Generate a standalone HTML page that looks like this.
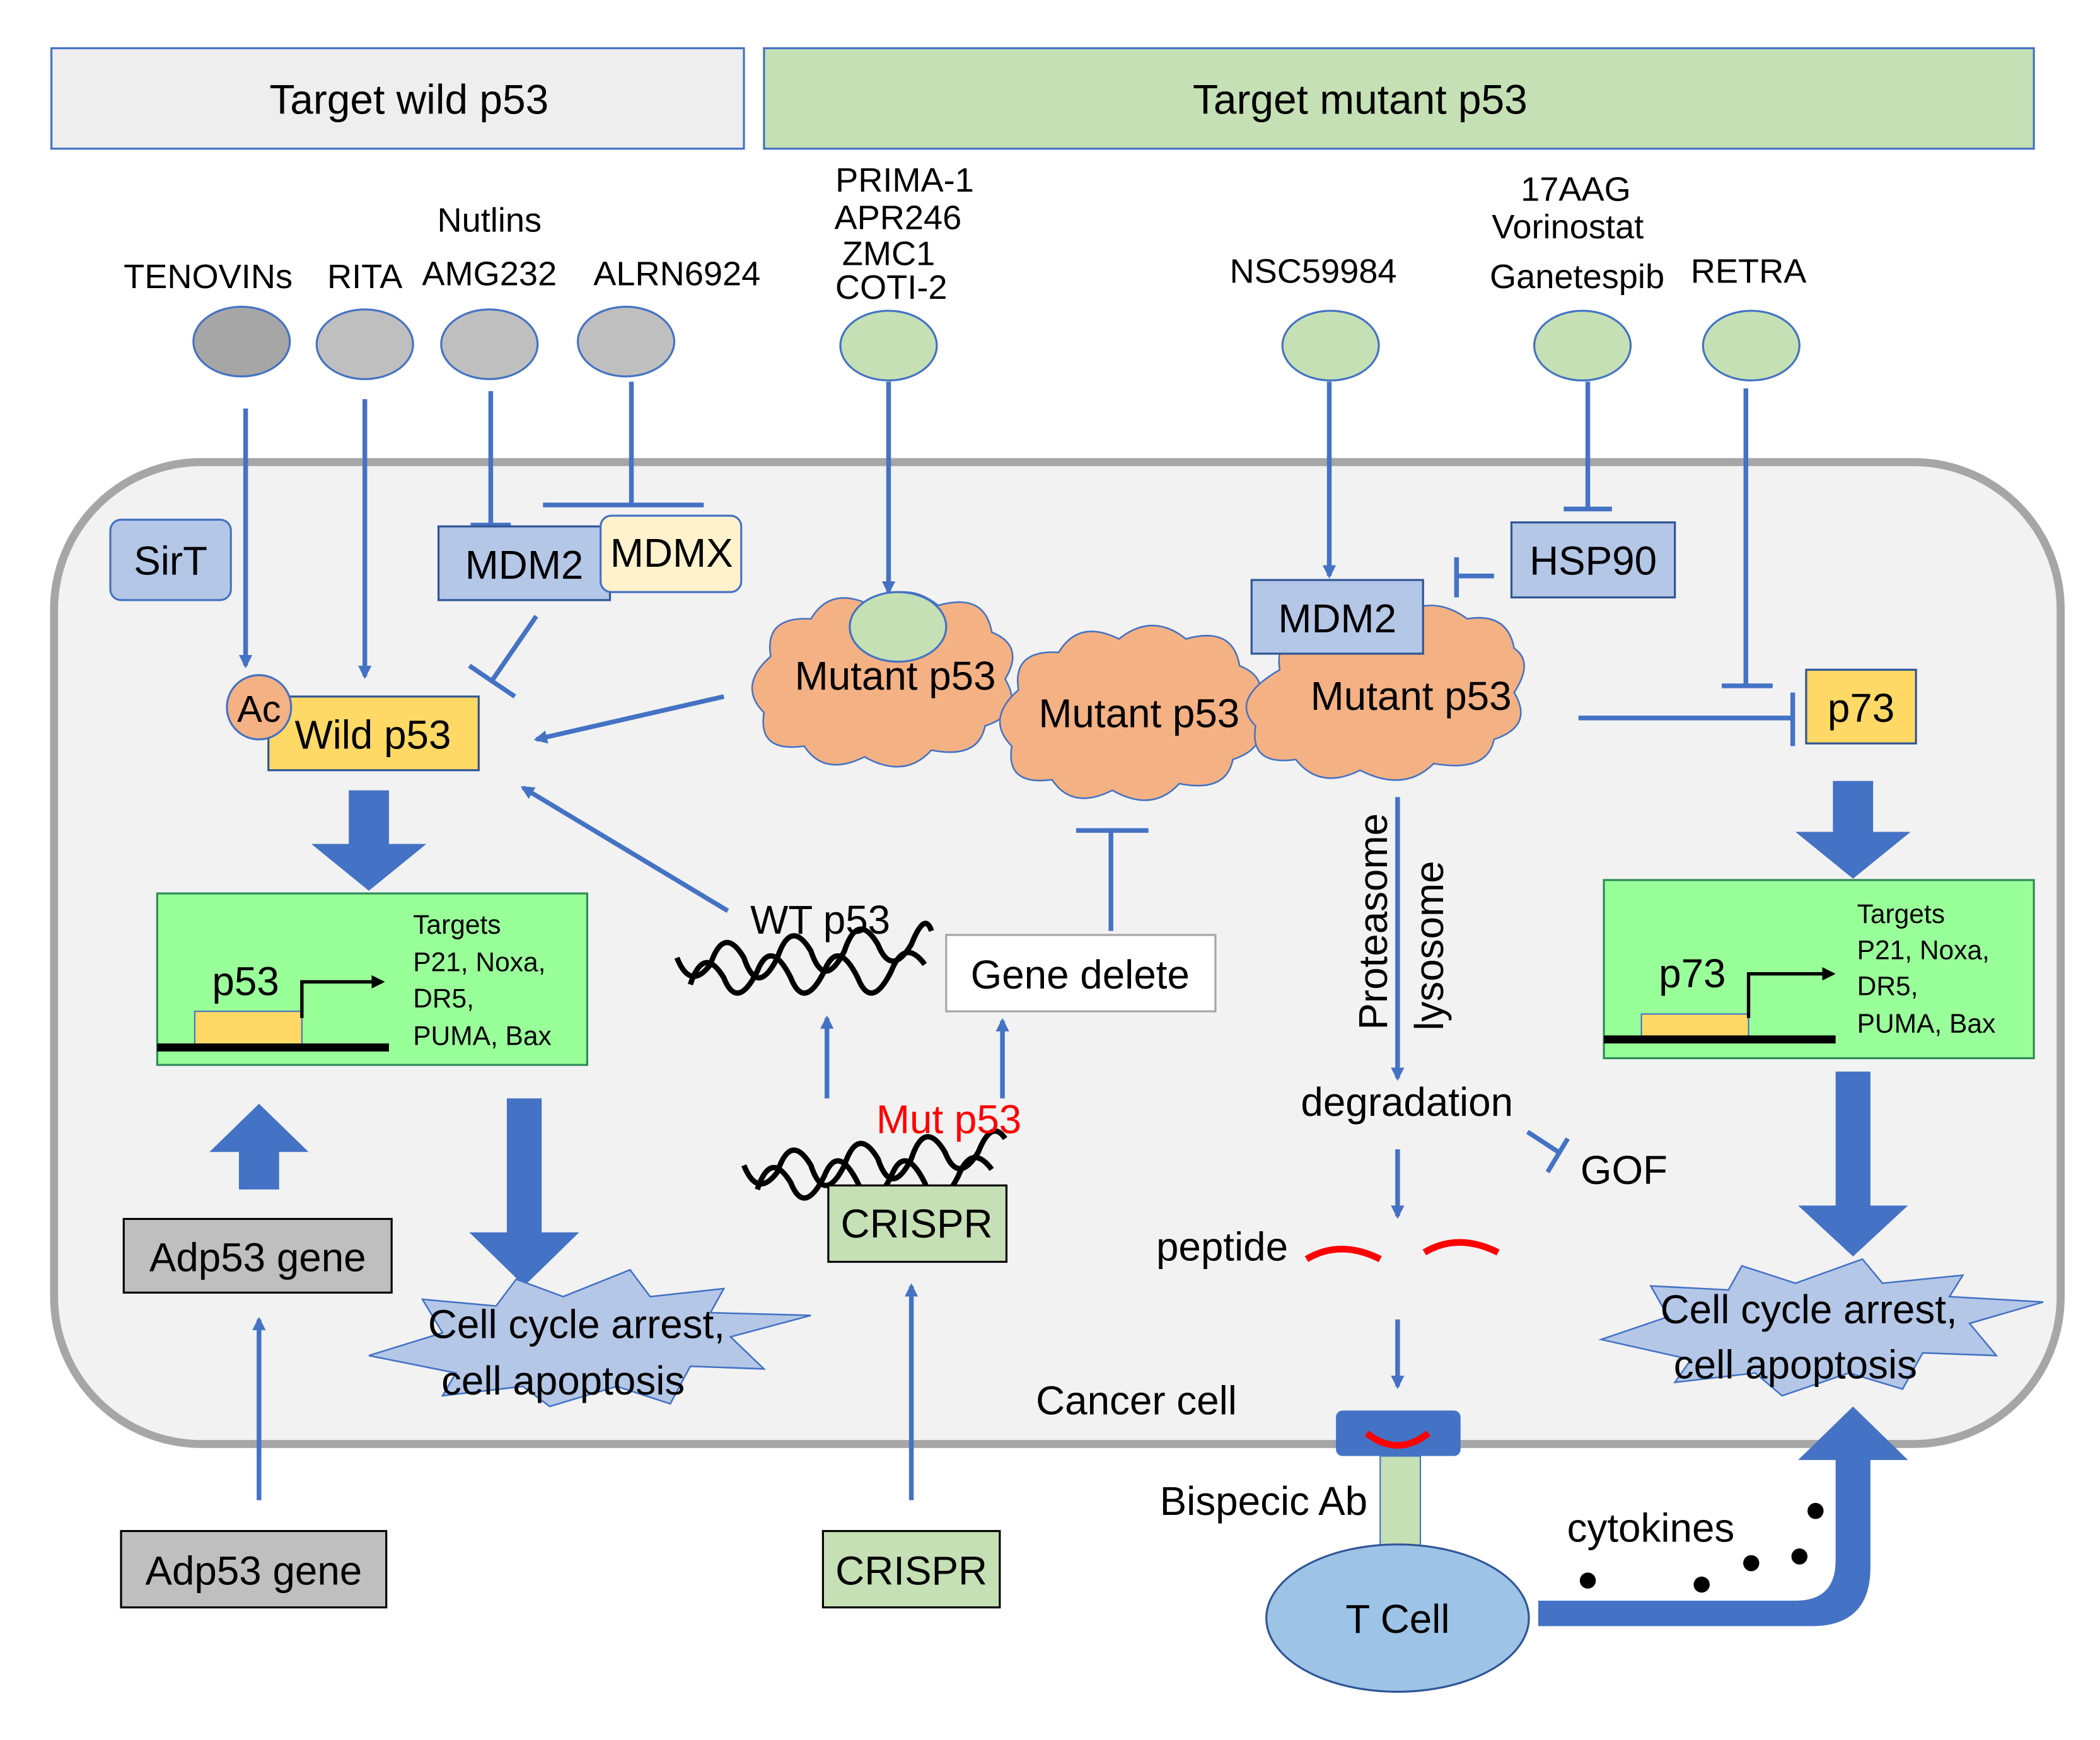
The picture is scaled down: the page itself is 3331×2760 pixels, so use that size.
<!DOCTYPE html>
<html><head><meta charset="utf-8"><style>html,body{margin:0;padding:0;background:#fff}svg{display:block}</style></head><body>
<svg width="3331" height="2760" viewBox="0 0 1567 1299" xmlns="http://www.w3.org/2000/svg" font-family="Liberation Sans, sans-serif">
<defs>
<marker id="ah" markerWidth="10" markerHeight="10" refX="8" refY="5" orient="auto" markerUnits="userSpaceOnUse"><path d="M0,0 L10,5 L0,10 z" fill="#4472c4"/></marker>
<marker id="ahk" markerWidth="10" markerHeight="10" refX="8" refY="5" orient="auto" markerUnits="userSpaceOnUse"><path d="M0,0 L10,5 L0,10 z" fill="#000"/></marker>
</defs>
<rect width="1567" height="1299" fill="#fff"/>
<rect x="38" y="36" width="517" height="75" fill="#eeeeee" stroke="#4472c4" stroke-width="1.5"/>
<text x="305" y="85" font-size="31" text-anchor="middle">Target wild p53</text>
<rect x="570" y="36" width="948" height="75" fill="#c5e0b4" stroke="#4472c4" stroke-width="1.5"/>
<text x="1015" y="85" font-size="31" text-anchor="middle">Target mutant p53</text>
<rect x="40" y="345" width="1498" height="733" rx="110" fill="#f2f2f2" stroke="#a6a6a6" stroke-width="6"/>
<g font-size="25.5" text-anchor="middle">
<text x="155" y="215">TENOVINs</text><text x="272" y="215">RITA</text>
<text x="365" y="173">Nutlins</text><text x="365" y="213">AMG232</text><text x="505" y="213">ALRN6924</text>
<text x="675" y="143">PRIMA-1</text><text x="670" y="171">APR246</text><text x="663" y="198">ZMC1</text><text x="665" y="223">COTI-2</text>
<text x="980" y="211">NSC59984</text>
<text x="1176" y="150">17AAG</text><text x="1170" y="178">Vorinostat</text><text x="1177" y="215">Ganetespib</text>
<text x="1305" y="211">RETRA</text>
</g>
<g stroke="#4472c4" stroke-width="1.5">
<ellipse cx="180" cy="255" rx="36" ry="26" fill="#a6a6a6"/>
<ellipse cx="272" cy="257" rx="36" ry="26" fill="#bfbfbf"/>
<ellipse cx="365" cy="257" rx="36" ry="26" fill="#bfbfbf"/>
<ellipse cx="467" cy="255" rx="36" ry="26" fill="#bfbfbf"/>
<ellipse cx="663" cy="258" rx="36" ry="26" fill="#c5e0b4"/>
<ellipse cx="993" cy="258" rx="36" ry="26" fill="#c5e0b4"/>
<ellipse cx="1181" cy="258" rx="36" ry="26" fill="#c5e0b4"/>
<ellipse cx="1307" cy="258" rx="36" ry="26" fill="#c5e0b4"/>
</g>
<g stroke="#4472c4" stroke-width="3.5" fill="none">
<line x1="183" y1="305" x2="183" y2="497" marker-end="url(#ah)"/>
<line x1="272" y1="298" x2="272" y2="505" marker-end="url(#ah)"/>
<line x1="366" y1="292" x2="366" y2="392"/><line x1="351" y1="392" x2="381" y2="392"/>
<line x1="471" y1="285" x2="471" y2="377"/><line x1="405" y1="377" x2="525" y2="377"/>
<line x1="663" y1="285" x2="663" y2="442" marker-end="url(#ah)"/>
<line x1="992" y1="285" x2="992" y2="430" marker-end="url(#ah)"/>
<line x1="1185" y1="285" x2="1185" y2="380"/><line x1="1167" y1="380" x2="1203" y2="380"/>
<line x1="1303" y1="290" x2="1303" y2="512"/><line x1="1285" y1="512" x2="1323" y2="512"/>
<line x1="400" y1="460" x2="367" y2="508"/><line x1="350" y1="497" x2="384" y2="520"/>
<line x1="540" y1="520" x2="400" y2="552" marker-end="url(#ah)"/>
<line x1="1115" y1="430" x2="1087" y2="430"/><line x1="1087" y1="416" x2="1087" y2="446"/>
<line x1="1178" y1="536" x2="1338" y2="536"/><line x1="1338" y1="517" x2="1338" y2="557"/>
<line x1="829" y1="695" x2="829" y2="620"/><line x1="803" y1="620" x2="857" y2="620"/>
<line x1="543" y1="680" x2="390" y2="588" marker-end="url(#ah)"/>
<line x1="617" y1="820" x2="617" y2="760" marker-end="url(#ah)"/>
<line x1="748" y1="820" x2="748" y2="762" marker-end="url(#ah)"/>
<line x1="193" y1="1120" x2="193" y2="985" marker-end="url(#ah)"/>
<line x1="680" y1="1120" x2="680" y2="960" marker-end="url(#ah)"/>
<line x1="1043" y1="595" x2="1043" y2="805" marker-end="url(#ah)"/>
<line x1="1140" y1="845" x2="1163" y2="860"/><line x1="1155" y1="875" x2="1170" y2="850"/>
<line x1="1043" y1="858" x2="1043" y2="908" marker-end="url(#ah)"/>
<line x1="1043" y1="985" x2="1043" y2="1035" marker-end="url(#ah)"/>
</g>
<rect x="82" y="388" width="90" height="60" rx="8" fill="#b4c7e7" stroke="#4472c4" stroke-width="1.5"/>
<text x="127" y="429" font-size="30" text-anchor="middle">SirT</text>
<rect x="327" y="393" width="128" height="55" fill="#b4c7e7" stroke="#2f5597" stroke-width="1.5"/>
<text x="391" y="432" font-size="30" text-anchor="middle">MDM2</text>
<rect x="448" y="385" width="105" height="57" rx="8" fill="#fff2cc" stroke="#4472c4" stroke-width="1.5"/>
<text x="501" y="423" font-size="30" text-anchor="middle">MDMX</text>
<rect x="200" y="520" width="157" height="55" fill="#ffd966" stroke="#2f5597" stroke-width="1.5"/>
<text x="278" y="559" font-size="30" text-anchor="middle">Wild p53</text>
<circle cx="193" cy="528" r="24" fill="#f4b183" stroke="#4472c4" stroke-width="1.5"/>
<text x="193" y="539" font-size="28" text-anchor="middle">Ac</text>
<g fill="#f4b183" stroke="#4472c4" stroke-width="1.2">
<path d="M575,490 q-5,-30 30,-28 q15,-25 45,-10 q25,-20 50,0 q35,-10 40,20 q25,10 10,35 q15,25 -15,35 q-5,25 -40,18 q-20,22 -50,5 q-30,15 -45,-8 q-35,5 -30,-25 q-20,-20 5,-42z"/>
<path d="M760,515 q-5,-30 30,-28 q15,-25 45,-10 q25,-20 50,0 q35,-10 40,20 q25,10 10,35 q15,25 -15,35 q-5,25 -40,18 q-20,22 -50,5 q-30,15 -45,-8 q-35,5 -30,-25 q-20,-20 5,-42z"/>
<path d="M955,500 q-5,-30 35,-28 q15,-25 50,-10 q28,-20 55,0 q30,-5 35,22 q15,10 0,33 q15,25 -15,35 q-5,25 -45,18 q-22,22 -55,5 q-30,15 -48,-8 q-35,5 -30,-25 q-20,-20 18,-42z"/>
</g>
<ellipse cx="670" cy="468" rx="36" ry="26" fill="#c5e0b4" stroke="#4472c4" stroke-width="1.5"/>
<g font-size="30" text-anchor="middle">
<text x="668" y="515">Mutant p53</text><text x="850" y="543">Mutant p53</text><text x="1053" y="530">Mutant p53</text>
</g>
<rect x="934" y="433" width="128" height="55" fill="#b4c7e7" stroke="#2f5597" stroke-width="1.5"/>
<text x="998" y="472" font-size="30" text-anchor="middle">MDM2</text>
<rect x="1128" y="390" width="122" height="56" fill="#b4c7e7" stroke="#2f5597" stroke-width="1.5"/>
<text x="1189" y="429" font-size="30" text-anchor="middle">HSP90</text>
<rect x="1348" y="500" width="82" height="55" fill="#ffd966" stroke="#2f5597" stroke-width="1.5"/>
<text x="1389" y="539" font-size="30" text-anchor="middle">p73</text>
<g fill="#4472c4">
<path d="M260,590 h30 v40 h28 l-43,35 l-43,-35 h28z"/>
<path d="M1368,583 h30 v38 h28 l-43,35 l-43,-35 h28z"/>
<path d="M378,820 h26 v100 h28 l-41,40 l-41,-40 h28z"/>
<path d="M1370,800 h26 v100 h28 l-41,38 l-41,-38 h28z"/>
<path d="M178,888 h30 v-28 h22 l-37,-36 l-37,36 h22z"/>
</g>
<g stroke="#2e8b57" stroke-width="1.5" fill="#99ff99">
<rect x="117" y="667" width="321" height="128"/><rect x="1197" y="657" width="321" height="133"/>
</g>
<g>
<rect x="145" y="755" width="80" height="25" fill="#ffd966" stroke="#4472c4"/>
<line x1="117" y1="782" x2="290" y2="782" stroke="#000" stroke-width="6"/>
<path d="M225,760 V733 H285" stroke="#000" stroke-width="2.5" fill="none" marker-end="url(#ahk)"/>
<text x="183" y="743" font-size="30" text-anchor="middle">p53</text>
<rect x="1225" y="757" width="80" height="20" fill="#ffd966" stroke="#4472c4"/>
<line x1="1197" y1="776" x2="1370" y2="776" stroke="#000" stroke-width="6"/>
<path d="M1305,760 V727 H1368" stroke="#000" stroke-width="2.5" fill="none" marker-end="url(#ahk)"/>
<text x="1263" y="737" font-size="30" text-anchor="middle">p73</text>
</g>
<g font-size="20">
<text x="308" y="697">Targets</text><text x="308" y="725">P21, Noxa,</text><text x="308" y="752">DR5,</text><text x="308" y="780">PUMA, Bax</text>
<text x="1386" y="689">Targets</text><text x="1386" y="716">P21, Noxa,</text><text x="1386" y="743">DR5,</text><text x="1386" y="771">PUMA, Bax</text>
</g>
<rect x="92" y="910" width="200" height="55" fill="#bfbfbf" stroke="#000" stroke-width="1.5"/>
<text x="192" y="949" font-size="30" text-anchor="middle">Adp53 gene</text>
<rect x="90" y="1143" width="198" height="57" fill="#bfbfbf" stroke="#000" stroke-width="1.5"/>
<text x="189" y="1183" font-size="30" text-anchor="middle">Adp53 gene</text>
<g fill="#b4c7e7" stroke="#4472c4" stroke-width="1.2">
<path d="M275,1012 L330,995 L315,970 L370,975 L385,955 L420,968 L470,948 L485,968 L540,962 L530,980 L605,982 L545,998 L570,1022 L515,1020 L500,1048 L460,1035 L410,1050 L390,1035 L330,1042 L340,1025z"/>
<path d="M1195,1000 L1245,983 L1232,960 L1290,963 L1300,945 L1340,958 L1390,940 L1405,958 L1465,952 L1455,968 L1525,972 L1470,988 L1490,1012 L1435,1010 L1420,1037 L1380,1025 L1330,1042 L1310,1025 L1250,1032 L1262,1015z"/>
</g>
<g font-size="30" text-anchor="middle">
<text x="430" y="999">Cell cycle arrest,</text><text x="420" y="1041">cell apoptosis</text>
<text x="1350" y="988">Cell cycle arrest,</text><text x="1340" y="1029">cell apoptosis</text>
</g>
<g fill="none" stroke="#000" stroke-width="4">
<path d="M505,715 q10,25 25,5 q10,-30 25,-5 q10,30 25,0 q10,-30 25,-5 q10,30 25,0 q10,-30 25,-5 q10,25 25,0 q10,-25 15,-10"/>
<path d="M515,735 q10,-30 25,-5 q10,25 25,-5 q10,-25 25,5 q10,25 25,-5 q10,-25 25,5 q10,25 25,-5 q10,-25 25,-5"/>
<path d="M555,870 q10,25 25,5 q10,-30 25,-5 q10,30 25,0 q10,-30 25,-5 q10,30 25,0 q10,-30 25,-5 q10,25 25,0 q10,-25 20,-10"/>
<path d="M565,888 q10,-30 25,-5 q10,25 25,-5 q10,-25 25,5 q10,25 25,-5 q10,-25 25,5 q10,25 25,-5 q10,-25 25,-5"/>
</g>
<text x="612" y="697" font-size="30" text-anchor="middle">WT p53</text>
<rect x="706" y="698" width="201" height="57" fill="#fff" stroke="#a6a6a6" stroke-width="1.5"/>
<text x="806" y="738" font-size="30" text-anchor="middle">Gene delete</text>
<text x="708" y="846" font-size="30" fill="#ff0000" text-anchor="middle">Mut p53</text>
<rect x="618" y="885" width="133" height="57" fill="#c5e0b4" stroke="#000" stroke-width="1.5"/>
<text x="684" y="924" font-size="30" text-anchor="middle">CRISPR</text>
<rect x="614" y="1143" width="132" height="57" fill="#c5e0b4" stroke="#000" stroke-width="1.5"/>
<text x="680" y="1183" font-size="30" text-anchor="middle">CRISPR</text>
<text x="1035" y="688" font-size="30" text-anchor="middle" transform="rotate(-90 1035 688)">Proteasome</text>
<text x="1077" y="706" font-size="30" text-anchor="middle" transform="rotate(-90 1077 706)">lysosome</text>
<g font-size="30" text-anchor="middle">
<text x="1050" y="833">degradation</text><text x="1212" y="884">GOF</text><text x="912" y="941">peptide</text>
<text x="848" y="1056">Cancer cell</text><text x="943" y="1131">Bispecic Ab</text><text x="1232" y="1151">cytokines</text>
</g>
<g fill="none" stroke="#ff0000" stroke-width="5">
<path d="M975,940 q25,-15 55,0"/><path d="M1063,935 q25,-15 55,0"/>
</g>
<rect x="1030" y="1087" width="30" height="81" fill="#c5e0b4" stroke="#4472c4"/>
<rect x="997" y="1053" width="93" height="34" rx="5" fill="#4472c4"/>
<path d="M1020,1070 q23,18 46,0" fill="none" stroke="#ff0000" stroke-width="5"/>
<ellipse cx="1043" cy="1208" rx="98" ry="55" fill="#9dc3e6" stroke="#2f5597" stroke-width="1.5"/>
<text x="1043" y="1219" font-size="30" text-anchor="middle">T Cell</text>
<path d="M1148,1195 H1340 q30,0 30,-30 V1090 H1342 L1383,1050 L1424,1090 H1396 V1170 q0,44 -44,44 H1148z" fill="#4472c4"/>
<g fill="#000">
<circle cx="1185" cy="1180" r="6"/><circle cx="1270" cy="1183" r="6"/><circle cx="1307" cy="1167" r="6"/><circle cx="1343" cy="1162" r="6"/><circle cx="1355" cy="1128" r="6"/>
</g>
</svg>
</body></html>
